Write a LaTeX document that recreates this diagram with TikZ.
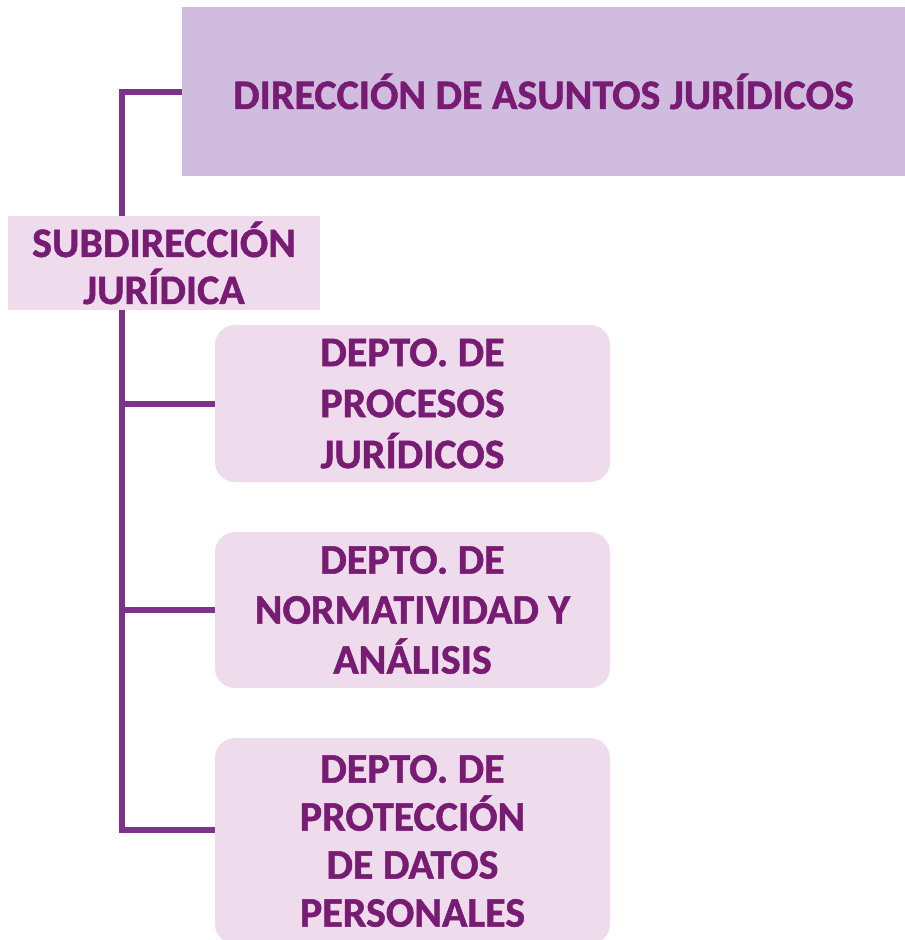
\documentclass[tikz,border=0pt]{standalone}
\usepackage{fontspec}
\setmainfont{Carlito}[BoldFeatures={FakeBold=1.2}]
\usetikzlibrary{backgrounds}
\definecolor{dirfill}{RGB}{208,188,222}
\definecolor{depfill}{RGB}{238,220,236}
\definecolor{linecol}{RGB}{125,50,140}
\definecolor{textcol}{RGB}{120,28,115}
\tikzstyle{unit}=[fill=depfill,text=textcol,inner sep=0pt,align=center,font=\bfseries\fontsize{42}{50}\selectfont]
\tikzstyle{depto}=[unit,rounded corners=20pt,minimum width=395pt]
\tikzstyle{conn}=[draw=linecol,line width=6pt]

\begin{document}
\begin{tikzpicture}[x=1pt,y=-1pt]%
\useasboundingbox (0,0) rectangle (905,940);%
\clip (0,0) rectangle (905,940);%
\node[unit,fill=dirfill,minimum width=723pt,minimum height=169pt] (dir) at (543.5,91.5) {DIRECCIÓN DE ASUNTOS JURÍDICOS}; %%
\node[unit,minimum width=312pt,minimum height=94pt,font=\bfseries\fontsize{42}{47}\selectfont] (sub) at (164,263) {SUBDIRECCIÓN\\JURÍDICA}; %%
\node[depto,minimum height=157pt,font=\bfseries\fontsize{42}{51}\selectfont] (d1) at (412.5,403.5) {DEPTO. DE\\PROCESOS\\JURÍDICOS}; %%
\node[depto,minimum height=156pt] (d2) at (412.5,610) {DEPTO. DE\\NORMATIVIDAD Y\\ANÁLISIS}; %%
\node[depto,minimum height=206pt,font=\bfseries\fontsize{42}{48}\selectfont] (d3) at (412.5,841) {DEPTO. DE\\PROTECCIÓN\\DE DATOS\\PERSONALES}; %%
\coordinate (spine) at (122,830); %%
\begin{scope}[on background layer]
\draw[conn] (dir.west) -| (spine) -- (spine -| d3.west); %%
\draw[conn] (d1.west) -- (d1.west -| spine); %%
\draw[conn] (d2.west) -- (d2.west -| spine); %%
\end{scope}
\end{tikzpicture}
\end{document}
